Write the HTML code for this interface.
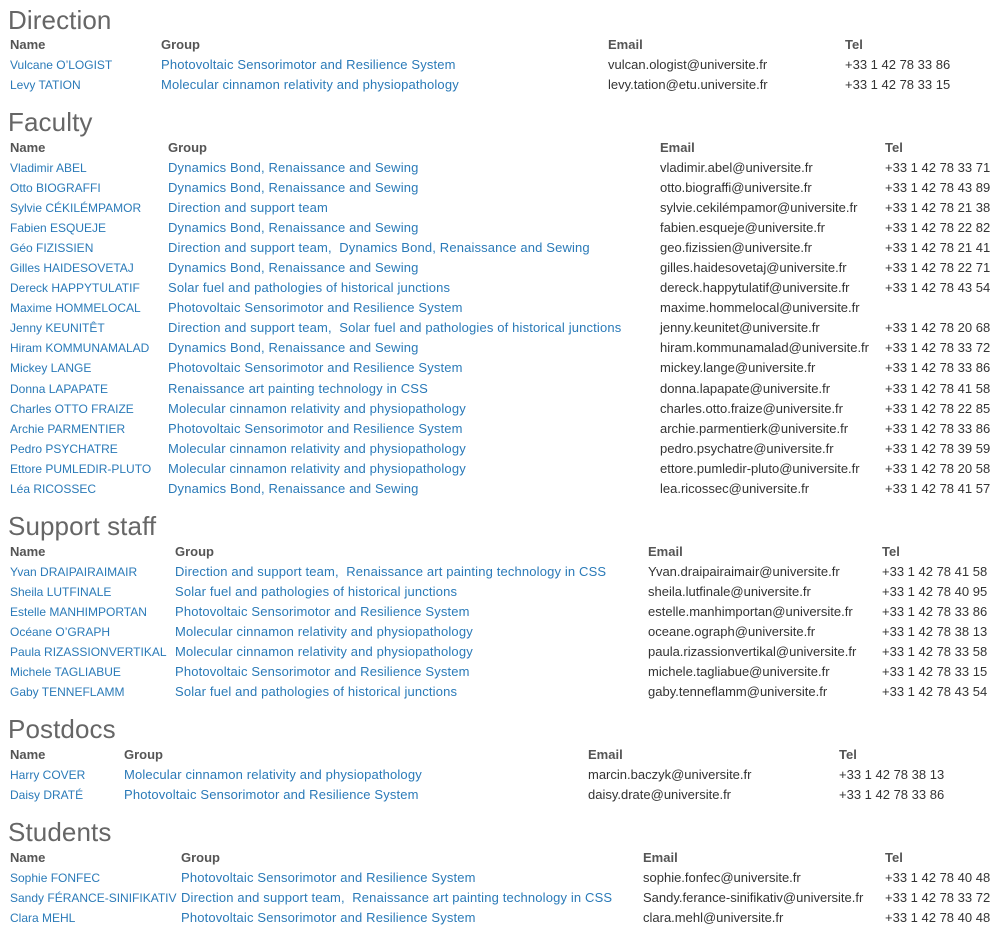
<!DOCTYPE html>
<html><head><meta charset="utf-8"><style>
body{margin:0;width:1007px;height:931px;background:#fff;position:relative;overflow:hidden;font-family:"Liberation Sans",Arial,sans-serif}
h2{position:absolute;left:8px;margin:0;font-weight:normal;font-size:26px;color:#666;line-height:30px;letter-spacing:0.1px}
.r{position:absolute;left:0;width:1007px;height:18px;line-height:18px;font-size:13px;white-space:nowrap}
.r span{position:absolute;top:0}
.h span{font-weight:bold;color:#555}
.r a{color:#2a7ab8;text-decoration:none;letter-spacing:0.15px}
.r span:first-child a{font-size:12px;letter-spacing:0}
.r .e{color:#333}
</style></head><body>

<h2 style="top:5px">Direction</h2>
<div class="r h" style="top:36px"><span style="left:10px">Name</span><span style="left:161px">Group</span><span style="left:608px">Email</span><span style="left:845px">Tel</span></div>
<div class="r" style="top:56px"><span style="left:10px"><a>Vulcane O’LOGIST</a></span><span style="left:161px"><a>Photovoltaic Sensorimotor and Resilience System</a></span><span class="e" style="left:608px">vulcan.ologist@universite.fr</span><span class="e" style="left:845px">+33 1 42 78 33 86</span></div>
<div class="r" style="top:76px"><span style="left:10px"><a>Levy TATION</a></span><span style="left:161px"><a>Molecular cinnamon relativity and physiopathology</a></span><span class="e" style="left:608px">levy.tation@etu.universite.fr</span><span class="e" style="left:845px">+33 1 42 78 33 15</span></div>

<h2 style="top:107px">Faculty</h2>
<div class="r h" style="top:139px"><span style="left:10px">Name</span><span style="left:168px">Group</span><span style="left:660px">Email</span><span style="left:885px">Tel</span></div>
<div class="r" style="top:159px"><span style="left:10px"><a>Vladimir ABEL</a></span><span style="left:168px"><a>Dynamics Bond, Renaissance and Sewing</a></span><span class="e" style="left:660px">vladimir.abel@universite.fr</span><span class="e" style="left:885px">+33 1 42 78 33 71</span></div>
<div class="r" style="top:179px"><span style="left:10px"><a>Otto BIOGRAFFI</a></span><span style="left:168px"><a>Dynamics Bond, Renaissance and Sewing</a></span><span class="e" style="left:660px">otto.biograffi@universite.fr</span><span class="e" style="left:885px">+33 1 42 78 43 89</span></div>
<div class="r" style="top:199px"><span style="left:10px"><a>Sylvie CÉKILÉMPAMOR</a></span><span style="left:168px"><a>Direction and support team</a></span><span class="e" style="left:660px">sylvie.cekilémpamor@universite.fr</span><span class="e" style="left:885px">+33 1 42 78 21 38</span></div>
<div class="r" style="top:219px"><span style="left:10px"><a>Fabien ESQUEJE</a></span><span style="left:168px"><a>Dynamics Bond, Renaissance and Sewing</a></span><span class="e" style="left:660px">fabien.esqueje@universite.fr</span><span class="e" style="left:885px">+33 1 42 78 22 82</span></div>
<div class="r" style="top:239px"><span style="left:10px"><a>Géo FIZISSIEN</a></span><span style="left:168px"><a>Direction and support team,&nbsp; Dynamics Bond, Renaissance and Sewing</a></span><span class="e" style="left:660px">geo.fizissien@universite.fr</span><span class="e" style="left:885px">+33 1 42 78 21 41</span></div>
<div class="r" style="top:259px"><span style="left:10px"><a>Gilles HAIDESOVETAJ</a></span><span style="left:168px"><a>Dynamics Bond, Renaissance and Sewing</a></span><span class="e" style="left:660px">gilles.haidesovetaj@universite.fr</span><span class="e" style="left:885px">+33 1 42 78 22 71</span></div>
<div class="r" style="top:279px"><span style="left:10px"><a>Dereck HAPPYTULATIF</a></span><span style="left:168px"><a>Solar fuel and pathologies of historical junctions</a></span><span class="e" style="left:660px">dereck.happytulatif@universite.fr</span><span class="e" style="left:885px">+33 1 42 78 43 54</span></div>
<div class="r" style="top:299px"><span style="left:10px"><a>Maxime HOMMELOCAL</a></span><span style="left:168px"><a>Photovoltaic Sensorimotor and Resilience System</a></span><span class="e" style="left:660px">maxime.hommelocal@universite.fr</span></div>
<div class="r" style="top:319px"><span style="left:10px"><a>Jenny KEUNITÊT</a></span><span style="left:168px"><a>Direction and support team,&nbsp; Solar fuel and pathologies of historical junctions</a></span><span class="e" style="left:660px">jenny.keunitet@universite.fr</span><span class="e" style="left:885px">+33 1 42 78 20 68</span></div>
<div class="r" style="top:339px"><span style="left:10px"><a>Hiram KOMMUNAMALAD</a></span><span style="left:168px"><a>Dynamics Bond, Renaissance and Sewing</a></span><span class="e" style="left:660px">hiram.kommunamalad@universite.fr</span><span class="e" style="left:885px">+33 1 42 78 33 72</span></div>
<div class="r" style="top:359px"><span style="left:10px"><a>Mickey LANGE</a></span><span style="left:168px"><a>Photovoltaic Sensorimotor and Resilience System</a></span><span class="e" style="left:660px">mickey.lange@universite.fr</span><span class="e" style="left:885px">+33 1 42 78 33 86</span></div>
<div class="r" style="top:380px"><span style="left:10px"><a>Donna LAPAPATE</a></span><span style="left:168px"><a>Renaissance art painting technology in CSS</a></span><span class="e" style="left:660px">donna.lapapate@universite.fr</span><span class="e" style="left:885px">+33 1 42 78 41 58</span></div>
<div class="r" style="top:400px"><span style="left:10px"><a>Charles OTTO FRAIZE</a></span><span style="left:168px"><a>Molecular cinnamon relativity and physiopathology</a></span><span class="e" style="left:660px">charles.otto.fraize@universite.fr</span><span class="e" style="left:885px">+33 1 42 78 22 85</span></div>
<div class="r" style="top:420px"><span style="left:10px"><a>Archie PARMENTIER</a></span><span style="left:168px"><a>Photovoltaic Sensorimotor and Resilience System</a></span><span class="e" style="left:660px">archie.parmentierk@universite.fr</span><span class="e" style="left:885px">+33 1 42 78 33 86</span></div>
<div class="r" style="top:440px"><span style="left:10px"><a>Pedro PSYCHATRE</a></span><span style="left:168px"><a>Molecular cinnamon relativity and physiopathology</a></span><span class="e" style="left:660px">pedro.psychatre@universite.fr</span><span class="e" style="left:885px">+33 1 42 78 39 59</span></div>
<div class="r" style="top:460px"><span style="left:10px"><a>Ettore PUMLEDIR-PLUTO</a></span><span style="left:168px"><a>Molecular cinnamon relativity and physiopathology</a></span><span class="e" style="left:660px">ettore.pumledir-pluto@universite.fr</span><span class="e" style="left:885px">+33 1 42 78 20 58</span></div>
<div class="r" style="top:480px"><span style="left:10px"><a>Léa RICOSSEC</a></span><span style="left:168px"><a>Dynamics Bond, Renaissance and Sewing</a></span><span class="e" style="left:660px">lea.ricossec@universite.fr</span><span class="e" style="left:885px">+33 1 42 78 41 57</span></div>

<h2 style="top:511px">Support staff</h2>
<div class="r h" style="top:543px"><span style="left:10px">Name</span><span style="left:175px">Group</span><span style="left:648px">Email</span><span style="left:882px">Tel</span></div>
<div class="r" style="top:563px"><span style="left:10px"><a>Yvan DRAIPAIRAIMAIR</a></span><span style="left:175px"><a>Direction and support team,&nbsp; Renaissance art painting technology in CSS</a></span><span class="e" style="left:648px">Yvan.draipairaimair@universite.fr</span><span class="e" style="left:882px">+33 1 42 78 41 58</span></div>
<div class="r" style="top:583px"><span style="left:10px"><a>Sheila LUTFINALE</a></span><span style="left:175px"><a>Solar fuel and pathologies of historical junctions</a></span><span class="e" style="left:648px">sheila.lutfinale@universite.fr</span><span class="e" style="left:882px">+33 1 42 78 40 95</span></div>
<div class="r" style="top:603px"><span style="left:10px"><a>Estelle MANHIMPORTAN</a></span><span style="left:175px"><a>Photovoltaic Sensorimotor and Resilience System</a></span><span class="e" style="left:648px">estelle.manhimportan@universite.fr</span><span class="e" style="left:882px">+33 1 42 78 33 86</span></div>
<div class="r" style="top:623px"><span style="left:10px"><a>Océane O’GRAPH</a></span><span style="left:175px"><a>Molecular cinnamon relativity and physiopathology</a></span><span class="e" style="left:648px">oceane.ograph@universite.fr</span><span class="e" style="left:882px">+33 1 42 78 38 13</span></div>
<div class="r" style="top:643px"><span style="left:10px"><a>Paula RIZASSIONVERTIKAL</a></span><span style="left:175px"><a>Molecular cinnamon relativity and physiopathology</a></span><span class="e" style="left:648px">paula.rizassionvertikal@universite.fr</span><span class="e" style="left:882px">+33 1 42 78 33 58</span></div>
<div class="r" style="top:663px"><span style="left:10px"><a>Michele TAGLIABUE</a></span><span style="left:175px"><a>Photovoltaic Sensorimotor and Resilience System</a></span><span class="e" style="left:648px">michele.tagliabue@universite.fr</span><span class="e" style="left:882px">+33 1 42 78 33 15</span></div>
<div class="r" style="top:683px"><span style="left:10px"><a>Gaby TENNEFLAMM</a></span><span style="left:175px"><a>Solar fuel and pathologies of historical junctions</a></span><span class="e" style="left:648px">gaby.tenneflamm@universite.fr</span><span class="e" style="left:882px">+33 1 42 78 43 54</span></div>

<h2 style="top:714px">Postdocs</h2>
<div class="r h" style="top:746px"><span style="left:10px">Name</span><span style="left:124px">Group</span><span style="left:588px">Email</span><span style="left:839px">Tel</span></div>
<div class="r" style="top:766px"><span style="left:10px"><a>Harry COVER</a></span><span style="left:124px"><a>Molecular cinnamon relativity and physiopathology</a></span><span class="e" style="left:588px">marcin.baczyk@universite.fr</span><span class="e" style="left:839px">+33 1 42 78 38 13</span></div>
<div class="r" style="top:786px"><span style="left:10px"><a>Daisy DRATÉ</a></span><span style="left:124px"><a>Photovoltaic Sensorimotor and Resilience System</a></span><span class="e" style="left:588px">daisy.drate@universite.fr</span><span class="e" style="left:839px">+33 1 42 78 33 86</span></div>

<h2 style="top:817px">Students</h2>
<div class="r h" style="top:849px"><span style="left:10px">Name</span><span style="left:181px">Group</span><span style="left:643px">Email</span><span style="left:885px">Tel</span></div>
<div class="r" style="top:869px"><span style="left:10px"><a>Sophie FONFEC</a></span><span style="left:181px"><a>Photovoltaic Sensorimotor and Resilience System</a></span><span class="e" style="left:643px">sophie.fonfec@universite.fr</span><span class="e" style="left:885px">+33 1 42 78 40 48</span></div>
<div class="r" style="top:889px"><span style="left:10px"><a>Sandy FÉRANCE-SINIFIKATIV</a></span><span style="left:181px"><a>Direction and support team,&nbsp; Renaissance art painting technology in CSS</a></span><span class="e" style="left:643px">Sandy.ferance-sinifikativ@universite.fr</span><span class="e" style="left:885px">+33 1 42 78 33 72</span></div>
<div class="r" style="top:909px"><span style="left:10px"><a>Clara MEHL</a></span><span style="left:181px"><a>Photovoltaic Sensorimotor and Resilience System</a></span><span class="e" style="left:643px">clara.mehl@universite.fr</span><span class="e" style="left:885px">+33 1 42 78 40 48</span></div>

</body></html>
